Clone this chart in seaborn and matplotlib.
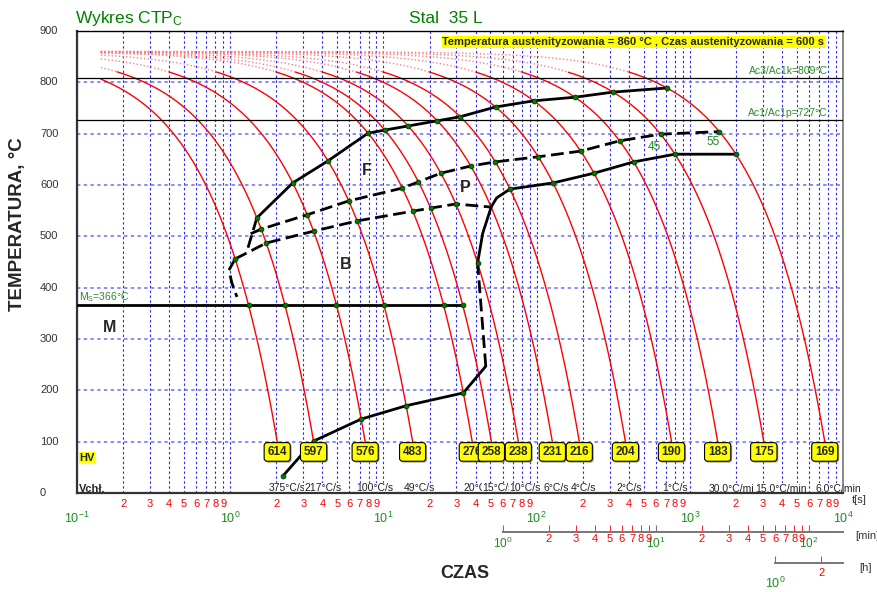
import numpy as np
import pandas as pd
import matplotlib
matplotlib.use("Agg")
import matplotlib.pyplot as plt
import matplotlib.patheffects as pe
import seaborn as sns

sns.set_style("white")
plt.rcParams["font.family"] = ["Liberation Sans", "DejaVu Sans"]
plt.rcParams["mathtext.fontset"] = "custom"
plt.rcParams["mathtext.rm"] = "Liberation Sans"
plt.rcParams["mathtext.it"] = "Liberation Sans:italic"
plt.rcParams["mathtext.bf"] = "Liberation Sans:bold"
plt.rcParams["mathtext.default"] = "regular"

# ---------------------------------------------------------------- data
T_AUST = 860.0          # austenitizing temperature, °C
T_FIRST = 0.143         # first plotted time of every cooling curve, s
T_SOLID = 820.0         # curves are drawn dotted above this temperature
T_BOX = 80.0            # hardness boxes sit on this temperature level

rates = [375, 217, 100, 49, 20, 15, 10, 6, 4, 2, 1, 0.5, 0.25, 0.1]   # °C/s
hardness = [614, 597, 576, 483, 276, 258, 238, 231, 216, 204, 190, 183, 175, 169]
rate_labels = ["375°C/s", "217°C/s", "100°C/s", "49°C/s", "20°C/s", "15°C/s",
               "10°C/s", "6°C/s", "4°C/s", "2°C/s", "1°C/s",
               "30,0°C/min", "15,0°C/min", "6,0°C/min"]

ac3 = 809
ac1 = 727
ms_temp = 366
ms_rates = [375, 217, 100, 49, 20, 15]

# ferrite start (solid) – temperature read on each cooling curve
fs_rates = [217, 100, 49, 20, 15, 10, 6, 4, 2, 1, 0.5, 0.25, 0.1]
fs_temps = [536, 604, 647, 701, 707, 715, 725, 733, 752, 764, 771, 781, 789]
fs_tail_t = [1.29]           # dashed extension towards the bainite nose
fs_tail_T = [472]

# ferrite end / pearlite start (dashed)
ps_head_t = [1.36]
ps_head_T = [505]
ps_rates = [217, 100, 49, 20, 15, 10, 6, 4, 2, 1, 0.5, 0.25, 0.1]
ps_temps = [514, 542, 569, 594, 606, 623, 637, 645, 655, 666, 686, 699, 704]

# bainite start (dashed)
bs_rates = [375, 217, 100, 49, 20, 15, 10, 6]
bs_temps = [456, 487, 510, 530, 549, 555, 563, 557]

# pearlite end (solid), starting at the bainite-start junction
pe_bend_t = [54.9]
pe_bend_T = [575]
pe_rates = [6, 4, 2, 1, 0.5, 0.25, 0.1]
pe_temps = [557, 592, 604, 623, 645, 660, 660]

# bainite end
be_rates = [375, 217, 100, 49, 20]
be_temps = [33, 101, 144, 170, 195]
be_corner_t = [46.6]
be_corner_T = [247]
be_upper_rates = [10, 6]
be_upper_temps = [448, 557]
be_bend_t = [44.5]
be_bend_T = [506]

# dashed bainite boundary just above Ms
nose_t = [0.981, 1.026, 1.106]
nose_T = [434, 409, 382]

ferrite_pct_t = [589, 1429]
ferrite_pct_T = [674, 684]
ferrite_pct = ["45", "55"]

decades = [0.1, 1, 10, 100, 1000, 10000]
decade_labels = ["$10^{-1}$", "$10^{0}$", "$10^{1}$", "$10^{2}$", "$10^{3}$", "$10^{4}$"]
minor_mult = [2, 3, 4, 5, 6, 7, 8, 9]
y_ticks = [0, 100, 200, 300, 400, 500, 600, 700, 800, 900]

min_decades = [1, 10, 100]
min_labels = ["$10^{0}$", "$10^{1}$", "$10^{2}$"]
hour_decades = [1]
hour_labels = ["$10^{0}$"]
hour_minor = [2]


def on_curve(rs, temps):
    r = np.asarray(rs, float)
    T = np.asarray(temps, float)
    return (T_AUST - T) / r, T


# ---------------------------------------------------------------- figure
fig = plt.figure(figsize=(8.78, 5.92), dpi=100)
ax = fig.add_axes([77 / 878, 99 / 592, 766 / 878, 462 / 592])
ax.set_xscale("log")
ax.set_xlim(0.1, 10000)
ax.set_ylim(0, 900)

ya = ax.get_yaxis_transform()   # x: axes fraction, y: °C

# grid
minor_pos = [m * d for d in decades[:-1] for m in minor_mult]
minor_lab = [str(m) for d in decades[:-1] for m in minor_mult]
for xv in decades + minor_pos:
    ax.axvline(xv, color="#2a2aff", lw=0.8, ls=(0, (2.2, 2.2)), zorder=1)
for yv in y_ticks[1:-1]:
    ax.axhline(yv, color="#6b6bff", lw=1.1, ls=(0, (2.2, 2.2)), zorder=1)

# cooling curves
rows = []
for r in rates:
    t_end = (T_AUST - T_BOX) / r
    t = np.logspace(np.log10(T_FIRST), np.log10(t_end), 500)
    T = T_AUST - r * t
    for tt, TT in zip(t, T):
        if TT <= T_SOLID + 0.5:
            rows.append((tt, TT, r, "solid"))
        if TT >= T_SOLID - 0.5:
            rows.append((tt, TT, r, "dotted"))
curves = pd.DataFrame(rows, columns=["t", "T", "rate", "part"])
sns.lineplot(data=curves[curves.part == "solid"], x="t", y="T", units="rate",
             estimator=None, sort=False, color="#ff0000", lw=1.0, ax=ax,
             legend=False, zorder=2)
sns.lineplot(data=curves[curves.part == "dotted"], x="t", y="T", units="rate",
             estimator=None, sort=False, color="#ff8080", lw=1.0,
             linestyle=(0, (1, 1.6)), ax=ax, legend=False, zorder=2)

# Ac lines
ax.axhline(ac3, color="black", lw=0.9, zorder=3)
ax.axhline(ac1, color="black", lw=0.9, zorder=3)

LW = 2.0
DASH = (0, (4.6, 2.0))


def draw(t, T, dashed=False):
    sns.lineplot(x=list(t), y=list(T), sort=False, estimator=None, color="black",
                 lw=LW, linestyle=DASH if dashed else "-", ax=ax, zorder=4)


fs_t, fs_T = on_curve(fs_rates, fs_temps)
draw(fs_t, fs_T)
draw([fs_t[0]] + fs_tail_t, [fs_T[0]] + fs_tail_T, dashed=True)

ps_t, ps_T = on_curve(ps_rates, ps_temps)
draw(ps_head_t + list(ps_t), ps_head_T + list(ps_T), dashed=True)

bs_t, bs_T = on_curve(bs_rates, bs_temps)
draw(bs_t, bs_T, dashed=True)
draw([bs_t[0]] + nose_t, [bs_T[0]] + nose_T, dashed=True)

pe_t, pe_T = on_curve(pe_rates, pe_temps)
draw([pe_t[0]] + pe_bend_t + list(pe_t[1:]), [pe_T[0]] + pe_bend_T + list(pe_T[1:]))

be_t, be_T = on_curve(be_rates, be_temps)
bu_t, bu_T = on_curve(be_upper_rates, be_upper_temps)
draw(list(be_t) + be_corner_t, list(be_T) + be_corner_T)
draw(be_corner_t + [bu_t[0]], be_corner_T + [bu_T[0]], dashed=True)
draw([bu_t[0]] + be_bend_t + [bu_t[1]], [bu_T[0]] + be_bend_T + [bu_T[1]])

# martensite start line
ms_t, _ = on_curve(ms_rates, [ms_temp] * len(ms_rates))
draw([0.1, ms_t[-1]], [ms_temp, ms_temp])

# points on the cooling curves
dot_t = np.concatenate([fs_t, ps_t, bs_t[:-1], pe_t[1:], be_t, bu_t[:1], ms_t])
dot_T = np.concatenate([fs_T, ps_T, bs_T[:-1], pe_T[1:], be_T, bu_T[:1],
                        [ms_temp] * len(ms_t)])
sns.scatterplot(x=dot_t, y=dot_T, s=12, color="#007a00", edgecolor="#003a00",
                linewidth=0.6, ax=ax, zorder=6, legend=False)

# hardness boxes and cooling-rate labels
t100 = [(T_AUST - 100) / r for r in rates]
for i, (tb, hv, lbl) in enumerate(zip(t100, hardness, rate_labels)):
    box = ax.text(tb, T_BOX, str(hv), ha="center", va="center", fontsize=8.5,
                  fontweight="bold", zorder=10 + i,
                  bbox=dict(boxstyle="round,pad=0.28,rounding_size=0.25",
                            fc="#ffff00", ec="black", lw=0.8))
    box.get_bbox_patch().set_path_effects(
        [pe.withSimplePatchShadow(offset=(1, -1), shadow_rgbFace="#888888", alpha=0.8)])
    # white-backed label, kept beneath the axis spines
    ax.annotate(lbl, xy=(tb, 9), xytext=(-6.5, 0), textcoords="offset points",
                ha="left", va="center", fontsize=7.5, color="#222222",
                bbox=dict(fc="white", ec="none", pad=0.2), zorder=2.2 + 0.01 * i)

ax.text(0.003, 69, "HV", transform=ya, ha="left", va="center", fontsize=8,
        fontweight="bold", bbox=dict(fc="#ffff00", ec="none", pad=0.5), zorder=10)
ax.text(0.002, 8, "Vchł.", transform=ya, ha="left", va="center", fontsize=8,
        fontweight="bold", zorder=10)

# region letters
for s, tx, Tx in [("F", 7.8, 629), ("P", 34, 596), ("B", 5.69, 446), ("M", 0.164, 323)]:
    ax.text(tx, Tx, s, ha="center", va="center", fontsize=11.5, fontweight="bold", zorder=8)
for s, tx, Tx in zip(ferrite_pct, ferrite_pct_t, ferrite_pct_T):
    ax.text(tx, Tx, s, ha="center", va="center", fontsize=8.5, color="#1e8c1e", zorder=8)

ax.text(0.980, 822, f"Ac3/Ac1k={ac3}°C", transform=ya, ha="right", va="center",
        fontsize=7.5, color="#2e8b2e", zorder=8)
ax.text(0.980, 741, f"Ac1/Ac1p={ac1}°C", transform=ya, ha="right", va="center",
        fontsize=7.5, color="#2e8b2e", zorder=8)
ax.text(0.003, 382, f"M$_S$={ms_temp}°C", transform=ya, ha="left", va="center",
        fontsize=7.5, color="#2e8b2e", zorder=8)
ax.text(0.7265, 878.6,
        "Temperatura austenityzowania = 860 °C , Czas austenityzowania = 600 s",
        transform=ya, ha="center", va="center", fontsize=8.0, fontweight="bold",
        bbox=dict(fc="#ffff00", ec="none", pad=0.5), zorder=8)

# axes styling
for side in ["left", "bottom"]:
    ax.spines[side].set_color("#333333")
    ax.spines[side].set_linewidth(1.6)
ax.spines["top"].set_color("black")
ax.spines["top"].set_linewidth(1.0)
ax.spines["right"].set_color("#777777")
ax.spines["right"].set_linewidth(1.2)

ax.set_xticks(decades, labels=decade_labels)
ax.set_xticks(minor_pos, labels=minor_lab, minor=True)
ax.tick_params(axis="x", which="major", color="red", labelcolor="#1e8c1e",
               labelsize=9, length=8, width=1, direction="out", pad=5)
ax.tick_params(axis="x", which="minor", color="red", labelcolor="red",
               labelsize=8, length=6, width=1, direction="inout", pad=1)
ax.set_yticks(y_ticks)
ax.tick_params(axis="y", which="major", color="red", length=9, width=1,
               direction="inout", labelleft=False)
ax.set_xlabel("")
ax.set_ylabel("")
for yv in y_ticks:
    ax.text(-37 / 766, yv, str(yv), transform=ya, ha="left", va="center",
            fontsize=8, color="#333333")

# minutes and hours scales
sec_min = ax.secondary_xaxis(-39 / 462, functions=(lambda s: s / 60.0, lambda m: m * 60.0))
sec_min.spines["bottom"].set_bounds(1, 10000 / 60.0)
sec_min.spines["bottom"].set_color("#777777")
sec_min.spines["bottom"].set_linewidth(1.4)
sec_min.set_xticks(min_decades, labels=min_labels)
min_minor = [m * d for d in min_decades[:2] for m in minor_mult]
sec_min.set_xticks(min_minor, labels=[str(m) for d in min_decades[:2] for m in minor_mult],
                   minor=True)
sec_min.tick_params(which="major", color="#777777", labelcolor="#1e8c1e", labelsize=8.5,
                    length=5, direction="in", pad=2.5)
sec_min.tick_params(which="minor", color="red", labelcolor="red", labelsize=8,
                    length=5, direction="in", pad=1.5)

sec_h = ax.secondary_xaxis(-70.3 / 462, functions=(lambda s: s / 3600.0, lambda h: h * 3600.0))
sec_h.spines["bottom"].set_bounds(1, 10000 / 3600.0)
sec_h.spines["bottom"].set_color("#777777")
sec_h.spines["bottom"].set_linewidth(1.4)
sec_h.set_xticks(hour_decades, labels=hour_labels)
sec_h.set_xticks(hour_minor, labels=[str(m) for m in hour_minor], minor=True)
sec_h.tick_params(which="major", color="#777777", labelcolor="#1e8c1e", labelsize=9,
                  length=5, direction="in", pad=9)
sec_h.tick_params(which="minor", color="red", labelcolor="red", labelsize=8,
                  length=5, direction="in", pad=3.5)

# titles and axis names
fig.text(75 / 878, 1 - 22.7 / 592, "Wykres CTP$_C$", color="#008000", fontsize=12.5,
         va="baseline", ha="left")
fig.text(409 / 878, 1 - 22.7 / 592, "Stal  35 L", color="#008000", fontsize=12.5,
         va="baseline", ha="left")
fig.text(18 / 878, 1 - 224 / 592, "TEMPERATURA, °C", rotation=90, ha="center",
         va="center", fontsize=13.5, fontweight="bold")
fig.text(465 / 878, 1 - 573 / 592, "CZAS", ha="center", va="center", fontsize=13,
         fontweight="bold")
fig.text(859 / 878, 1 - 500 / 592, "t[s]", ha="center", va="center", fontsize=8, color="#333333")
fig.text(867 / 878, 1 - 536 / 592, "[min]", ha="center", va="center", fontsize=8, color="#333333")
fig.text(866 / 878, 1 - 568 / 592, "[h]", ha="center", va="center", fontsize=8, color="#333333")

fig.savefig("out.png", dpi=100)
